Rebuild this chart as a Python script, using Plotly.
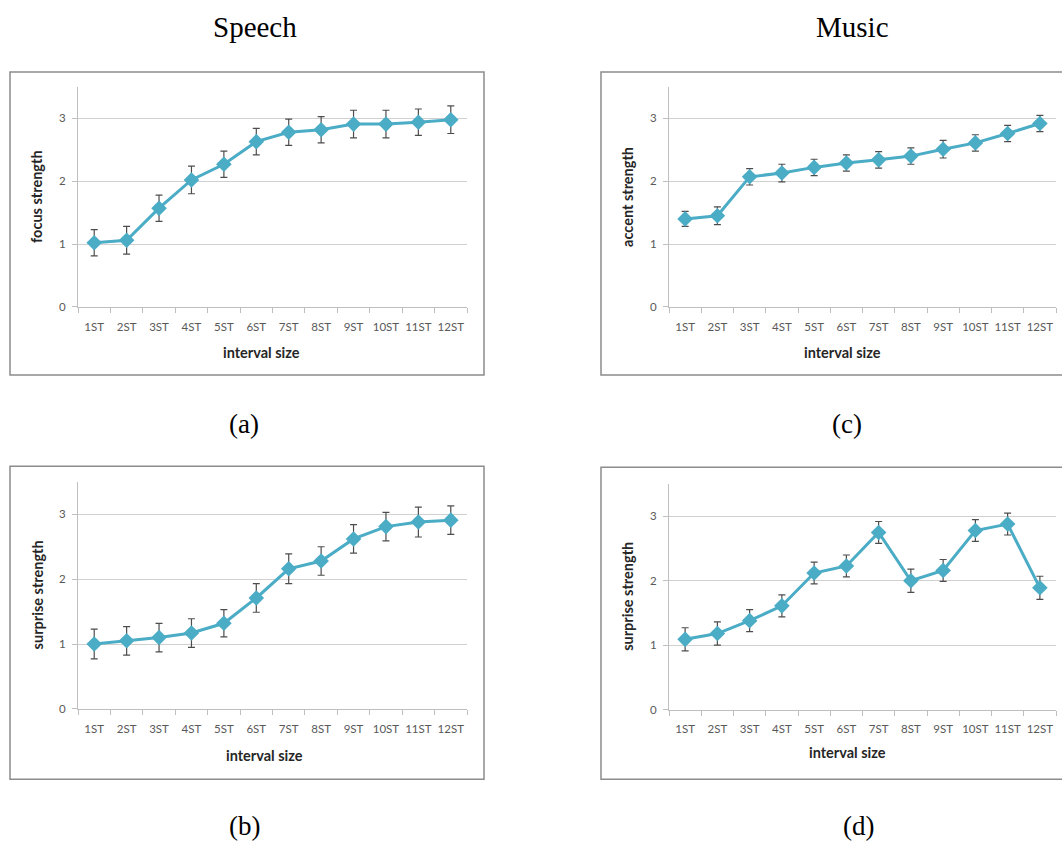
import plotly.graph_objects as go

W, H = 1062, 841

categories = ["1ST", "2ST", "3ST", "4ST", "5ST", "6ST", "7ST", "8ST", "9ST", "10ST", "11ST", "12ST"]

focus_speech = [1.02, 1.06, 1.57, 2.02, 2.27, 2.63, 2.78, 2.82, 2.91, 2.91, 2.94, 2.98]
focus_speech_err = [0.21, 0.22, 0.21, 0.22, 0.21, 0.21, 0.21, 0.21, 0.22, 0.22, 0.21, 0.22]

surprise_speech = [1.00, 1.05, 1.10, 1.17, 1.32, 1.71, 2.16, 2.28, 2.62, 2.81, 2.88, 2.91]
surprise_speech_err = [0.23, 0.22, 0.22, 0.22, 0.21, 0.22, 0.23, 0.22, 0.22, 0.22, 0.23, 0.22]

accent_music = [1.40, 1.45, 2.07, 2.13, 2.22, 2.29, 2.34, 2.40, 2.51, 2.61, 2.76, 2.92]
accent_music_err = [0.12, 0.14, 0.13, 0.14, 0.13, 0.13, 0.13, 0.13, 0.14, 0.13, 0.13, 0.13]

surprise_music = [1.09, 1.18, 1.38, 1.61, 2.12, 2.23, 2.75, 2.00, 2.16, 2.78, 2.88, 1.89]
surprise_music_err = [0.18, 0.18, 0.17, 0.17, 0.17, 0.17, 0.17, 0.18, 0.17, 0.17, 0.17, 0.18]

column_titles = ["Speech", "Music"]
panel_labels = ["(a)", "(b)", "(c)", "(d)"]
y_titles = ["focus strength", "surprise strength", "accent strength", "surprise strength"]
x_title = "interval size"

LINE = "#4BACC6"
TICK_FONT = dict(family="Lato, Carlito, Arial", size=11.5, color="#595959")
TITLE_FONT = dict(family="Lato, Arial", size=14.5, color="#262626")
SERIF = dict(family="Liberation Serif, Times New Roman, serif", size=29, color="black")

KY = 1.0075  # small vertical correction


def px_x(v):
    return v / W


def px_y(v):
    return 1 - v * KY / H


panels = [
    dict(data=focus_speech, err=focus_speech_err, ytitle=y_titles[0], label=panel_labels[0],
         pl=78, pr=467, pt=87, pb=306.7, bl=10, br=484, bt=72, bb=375, lab=(244, 424),
         xt=(261, 352)),
    dict(data=surprise_speech, err=surprise_speech_err, ytitle=y_titles[1], label=panel_labels[1],
         pl=78, pr=467, pt=481.7, pb=708.7, bl=10, br=484, bt=466, bb=779, lab=(244, 826),
         xt=(264, 755)),
    dict(data=accent_music, err=accent_music_err, ytitle=y_titles[2], label=panel_labels[2],
         pl=669, pr=1056, pt=87, pb=306.7, bl=601, br=1070, bt=72, bb=375, lab=(847, 424),
         xt=(842, 352.5)),
    dict(data=surprise_music, err=surprise_music_err, ytitle=y_titles[3], label=panel_labels[3],
         pl=669, pr=1056, pt=484, pb=709.3, bl=601, br=1070, bt=467, bb=779, lab=(858, 826),
         xt=(847, 752)),
]

fig = go.Figure()
shapes = []
annotations = []

for i, p in enumerate(panels):
    n = "" if i == 0 else str(i + 1)
    xa, ya = "x" + n, "y" + n
    fig.add_trace(go.Scatter(
        x=categories, y=p["data"], xaxis=xa, yaxis=ya, mode="lines+markers",
        line=dict(color=LINE, width=3),
        marker=dict(symbol="diamond", size=12, color=LINE),
        error_y=dict(type="data", array=p["err"], visible=True, color="#4D4D4D", thickness=1.2, width=3.5),
        showlegend=False, hoverinfo="x+y",
    ))
    fig.layout["xaxis" + n] = dict(
        domain=[px_x(p["pl"]), px_x(p["pr"])], anchor=ya, type="category",
        range=[-0.5, len(categories) - 0.5],
        showline=True, linecolor="#BFBFBF", linewidth=1,
        ticks="outside", tickson="boundaries", ticklen=5, tickcolor="#BFBFBF",
        tickangle=0, ticklabelstandoff=9, tickfont=TICK_FONT,
        showgrid=False, zeroline=False, fixedrange=True,
    )
    fig.layout["yaxis" + n] = dict(
        domain=[px_y(p["pb"]), px_y(p["pt"])], anchor=xa, range=[0, 3.5],
        tickvals=[0, 1, 2, 3], showline=True, linecolor="#BFBFBF", linewidth=1,
        ticks="outside", ticklen=5, tickcolor="#BFBFBF", tickfont=TICK_FONT,
        ticklabelstandoff=4,
        showgrid=True, gridcolor="#D0D0D0", gridwidth=1, zeroline=False, fixedrange=True,
    )
    shapes.append(dict(type="rect", xref="paper", yref="paper",
                       x0=px_x(p["bl"]), x1=px_x(p["br"]), y0=px_y(p["bb"]), y1=px_y(p["bt"]),
                       line=dict(color="#8C8C8C", width=1.5), layer="below"))
    annotations.append(dict(text="<b>%s</b>" % p["ytitle"], xref="paper", yref="paper",
                            x=px_x(p["pl"] - 41), y=px_y((p["pt"] + p["pb"]) / 2),
                            textangle=-90, showarrow=False, font=TITLE_FONT,
                            xanchor="center", yanchor="middle"))
    annotations.append(dict(text="<b>%s</b>" % x_title, xref="paper", yref="paper",
                            x=px_x(p["xt"][0]), y=px_y(p["xt"][1]),
                            showarrow=False, font=TITLE_FONT, xanchor="center", yanchor="middle"))
    annotations.append(dict(text=p["label"], xref="paper", yref="paper",
                            x=px_x(p["lab"][0]), y=px_y(p["lab"][1]), showarrow=False,
                            font=dict(SERIF, size=27), xanchor="center", yanchor="middle"))

for title, cx in zip(column_titles, [255, 853]):
    annotations.append(dict(text=title, xref="paper", yref="paper", x=px_x(cx), y=px_y(27),
                            showarrow=False, font=SERIF, xanchor="center", yanchor="middle"))

fig.update_layout(
    width=W, height=H, margin=dict(l=0, r=0, t=0, b=0),
    paper_bgcolor="white", plot_bgcolor="white",
    shapes=shapes, annotations=annotations,
)

fig.write_html("out.html", config={"displayModeBar": False},
               post_script="document.body.style.margin='0';document.body.style.overflow='hidden';")
